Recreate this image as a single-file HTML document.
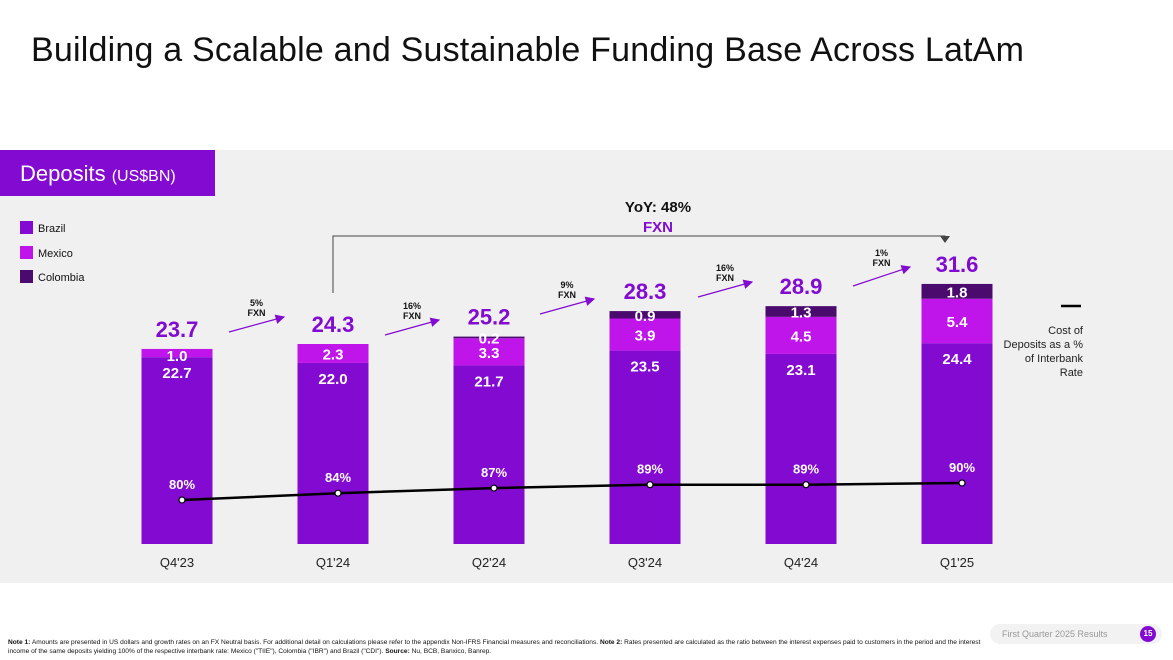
<!DOCTYPE html>
<html><head><meta charset="utf-8"><style>
body{margin:0;width:1173px;height:660px;background:#fff;font-family:"Liberation Sans",sans-serif;overflow:hidden;position:relative}
.title{position:absolute;left:31px;top:31px;font-size:34px;letter-spacing:0.2px;color:#111}
.panel{position:absolute;left:0;top:150px;width:1173px;height:433px;background:#f0f0f0}
.hdr{position:absolute;left:0;top:150px;width:215px;height:46px;background:#820ad1;color:#fff}
.note{position:absolute;left:8px;top:638px;font-size:6.6px;line-height:9px;color:#111;width:980px}
.foot{position:absolute;left:990px;top:624px;width:172px;height:20px;background:#f2f2f2;border-radius:10px;font-size:9px;color:#999}
</style></head><body>
<div class="title">Building a Scalable and Sustainable Funding Base Across LatAm</div>
<div class="panel"></div>
<div class="hdr"><span style="position:absolute;left:20px;top:11px;font-size:22px">Deposits <span style="font-size:16px">(US$BN)</span></span></div>
<svg id="chart" width="1173" height="660" style="position:absolute;left:0;top:0"></svg>
<div class="note"><b>Note 1:</b> Amounts are presented in US dollars and growth rates on an FX Neutral basis. For additional detail on calculations please refer to the appendix Non-IFRS Financial measures and reconciliations. <b>Note 2:</b> Rates presented are calculated as the ratio between the interest expenses paid to customers in the period and the interest income of the same deposits yielding 100% of the respective interbank rate: Mexico ("TIIE"), Colombia ("IBR") and Brazil ("CDI"). <b>Source:</b> Nu, BCB, Banxico, Banrep.</div>
<div class="foot"><span style="position:absolute;left:12px;top:5px">First Quarter 2025 Results</span><span style="position:absolute;left:150px;top:2px;width:16px;height:16px;border-radius:8px;background:#820ad1;color:#fff;font-weight:bold;text-align:center;line-height:16px;font-size:8px">15</span></div>
<script>
const categories=["Q4'23","Q1'24","Q2'24","Q3'24","Q4'24","Q1'25"];
const brazil=[22.7,22.0,21.7,23.5,23.1,24.4];
const mexico=[1.0,2.3,3.3,3.9,4.5,5.4];
const colombia=[0,0,0.2,0.9,1.3,1.8];
const totals=[23.7,24.3,25.2,28.3,28.9,31.6];
const costPct=[80,84,87,89,89,90];
const growth=["5%","16%","9%","16%","1%"];
const C={br:"#820ad1",mx:"#bf14ea",co:"#4a0a6e"};
const svg=document.getElementById('chart');const NS="http://www.w3.org/2000/svg";
function el(t,a,txt){const e=document.createElementNS(NS,t);for(const k in a)e.setAttribute(k,a[k]);if(txt!=null)e.textContent=txt;svg.appendChild(e);return e;}
const x=i=>177+i*156, y=v=>544-v*8.23, yp=p=>500-(p-80)*1.7, BW=71;
const F='"Liberation Sans",sans-serif';
categories.forEach((c,i)=>{
 const yb=y(brazil[i]),ym=y(brazil[i]+mexico[i]),yc=y(brazil[i]+mexico[i]+colombia[i]);
 let r=el('rect',{x:x(i)-BW/2,y:yb,width:BW,height:544-yb,fill:C.br});
 
 r=el('rect',{x:x(i)-BW/2,y:ym,width:BW,height:yb-ym,fill:C.mx});
 
 if(colombia[i]>0){r=el('rect',{x:x(i)-BW/2,y:yc,width:BW,height:ym-yc,fill:C.co});
 
 let t=el('text',{x:x(i),y:(yc+ym)/2+6,'text-anchor':'middle','font-size':15,'font-weight':'bold',fill:'#fff','font-family':F},colombia[i].toFixed(1));
 }
 let t=el('text',{x:x(i),y:yb+21,'text-anchor':'middle','font-size':15,'font-weight':'bold',fill:'#fff','font-family':F},brazil[i].toFixed(1));
 
 t=el('text',{x:x(i),y:Math.max((ym+yb)/2+6,ym+12),'text-anchor':'middle','font-size':15,'font-weight':'bold',fill:'#fff','font-family':F},mexico[i].toFixed(1));
 
 t=el('text',{x:x(i),y:y(totals[i])-12,'text-anchor':'middle','font-size':22,'font-weight':'bold',fill:C.br,'font-family':F},totals[i].toFixed(1));
 
 t=el('text',{x:x(i),y:567,'text-anchor':'middle','font-size':13,fill:'#222','font-family':F},c);
 
});
const px=i=>x(i)+5;
const pts=costPct.map((p,i)=>px(i)+','+yp(p)).join(' ');
let pl=el('polyline',{points:pts,fill:'none',stroke:'#000','stroke-width':2.5});

costPct.forEach((p,i)=>{let c=el('circle',{cx:px(i),cy:yp(p),r:3,fill:'#fff',stroke:'#000','stroke-width':1.2});
 
 let t=el('text',{x:px(i),y:yp(p)-11,'text-anchor':'middle','font-size':13,'font-weight':'bold',fill:'#fff','font-family':F},p+'%');
 });
const arrowPos=[[229,332,284,317],[385,335,439,320],[540,314,594,299],[698,297,752,282],[853,286,910,267]];
el('defs',{}).innerHTML='<marker id="ah" markerWidth="8" markerHeight="8" refX="7" refY="4" orient="auto"><path d="M0,0L8,4L0,8z" fill="#820ad1"/></marker>';
growth.forEach((g,i)=>{const a=arrowPos[i];
 let l=el('line',{x1:a[0],y1:a[1],x2:a[2],y2:a[3],stroke:'#820ad1','stroke-width':1.2,'marker-end':'url(#ah)'});
 
 const cx=(a[0]+a[2])/2,cy=Math.min(a[1],a[3]);
 let t=el('text',{x:cx,y:cy-11,'text-anchor':'middle','font-size':9,'font-weight':'bold',fill:'#111','font-family':F},g);
 
 t=el('text',{x:cx,y:cy-1,'text-anchor':'middle','font-size':9,'font-weight':'bold',fill:'#111','font-family':F},'FXN');
 });
let b=el('polyline',{points:'333,293 333,236 945,236 945,241',fill:'none',stroke:'#444','stroke-width':1});

el('path',{d:'M940,236L950,236L945,243z',fill:'#444'});
let t=el('text',{x:658,y:212,'text-anchor':'middle','font-size':15,'font-weight':'bold',fill:'#111','font-family':F},'YoY: 48%');

t=el('text',{x:658,y:232,'text-anchor':'middle','font-size':15,'font-weight':'bold',fill:C.br,'font-family':F},'FXN');

[["Brazil",C.br,227],["Mexico",C.mx,252],["Colombia",C.co,276]].forEach(d=>{
 let r=el('rect',{x:20,y:d[2]-6,width:13,height:13,fill:d[1]});
 let t=el('text',{x:38,y:d[2]+5,'font-size':11,fill:'#111','font-family':F},d[0]);});
let ll=el('line',{x1:1061,y1:306,x2:1081,y2:306,stroke:'#000','stroke-width':2.5});
["Cost of","Deposits as a %","of Interbank","Rate"].forEach((s,i)=>{let t=el('text',{x:1083,y:334+i*14,'text-anchor':'end','font-size':11,fill:'#222','font-family':F},s);
 });
</script>
</body></html>
